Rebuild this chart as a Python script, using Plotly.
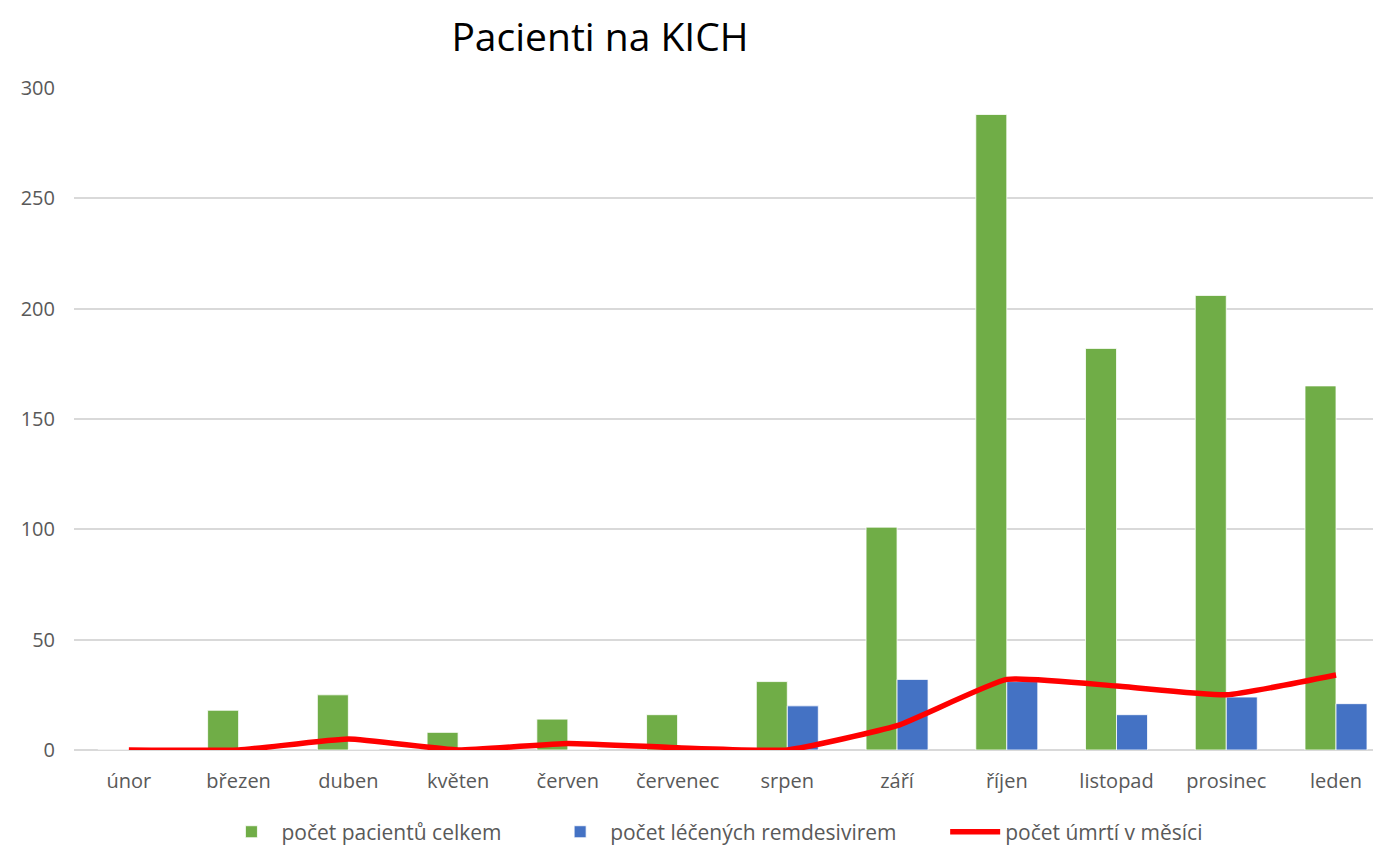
import plotly.graph_objects as go

months = ["únor", "březen", "duben", "květen", "červen", "červenec",
          "srpen", "září", "říjen", "listopad", "prosinec", "leden"]
pacienti = [0, 18, 25, 8, 14, 16, 31, 101, 288, 182, 206, 165]
remdesivir = [0, 0, 0, 0, 0, 0, 20, 32, 31, 16, 24, 21]
umrti = [0, 0, 5, 0, 3, 1, 0, 11, 32, 29, 25, 34]

font_fam = "Open Sans, Liberation Sans, sans-serif"
txt = "#595959"
pad = "\u00a0" * 8

fig = go.Figure()
fig.add_trace(go.Bar(x=months, y=pacienti, name="počet pacientů celkem" + pad,
                     marker=dict(color="#70ad47", line=dict(color="white", width=0.8))))
fig.add_trace(go.Bar(x=months, y=remdesivir, name="počet léčených remdesivirem" + pad,
                     marker=dict(color="#4472c4", line=dict(color="white", width=0.8))))
fig.add_trace(go.Scatter(x=months, y=umrti, name="počet úmrtí v měsíci", mode="lines",
                         line=dict(color="#ff0000", width=5.5, shape="spline", smoothing=0.4)))

fig.update_layout(
    width=1381, height=847,
    paper_bgcolor="white", plot_bgcolor="white",
    margin=dict(l=66, r=8, t=80, b=105, autoexpand=False),
    barmode="group", bargap=0.435, bargroupgap=0,
    title=dict(text="Pacienti na KICH", x=592 / 1381, xanchor="center",
               y=1 - 29 / 847, yanchor="middle",
               font=dict(family=font_fam, size=39, color="black")),
    font=dict(family=font_fam, size=20, color=txt),
    legend=dict(orientation="h", x=0.49, xanchor="center", y=-0.124, yanchor="middle",
                font=dict(size=21, color=txt), itemwidth=50, traceorder="normal"),
    xaxis=dict(range=[-0.5, 11.41], showgrid=False, showline=False, ticks="",
               tickfont=dict(size=20, color=txt), ticklabelstandoff=17),
    yaxis=dict(range=[0, 300], dtick=50, showgrid=True, gridcolor="#d9d9d9", gridwidth=1.5,
               zeroline=True, zerolinecolor="#d9d9d9", zerolinewidth=1.5,
               showline=False, ticks="", tickfont=dict(size=20, color=txt),
               ticklabelstandoff=18),
)

fig.write_html("out.html")
